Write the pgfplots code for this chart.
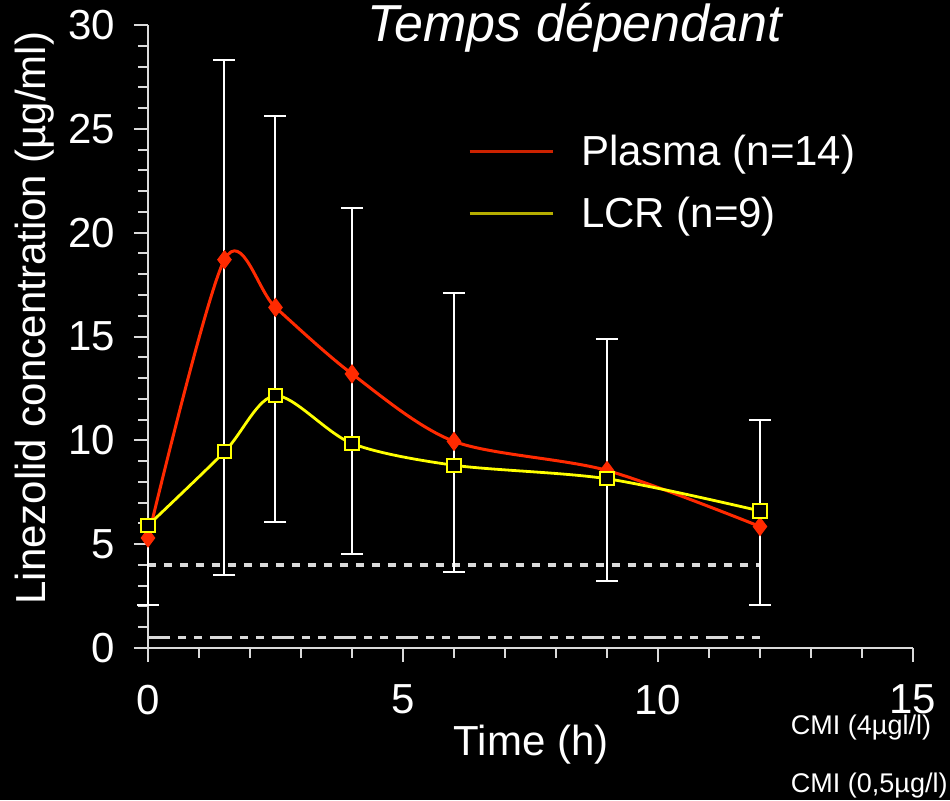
\documentclass[border=0pt]{standalone}
\usepackage{pgfplots}
\pgfplotsset{compat=1.18}
\usepackage{pgfplotstable}
\usepackage{fontspec}
\setmainfont{Liberation Sans}

\definecolor{plasmared}{HTML}{FF2A00}
\definecolor{lcryellow}{HTML}{FFFF00}
\definecolor{legred}{HTML}{CC2200}
\definecolor{legyellow}{HTML}{B5AD00}
\definecolor{axisgray}{HTML}{DADADA}

% mean concentrations (µg/ml)
\pgfplotstableread{
t    plasma  lcr
0    5.30    5.90
1.5  18.70   9.45
2.5  16.40   12.15
4    13.20   9.85
6    9.95    8.80
9    8.55    8.15
12   5.85    6.60
}\conc

% standard deviation bars: top and bottom ends around the plasma mean
\pgfplotstableread{
t    c      ep     em
1.5  18.70  9.60   15.20
2.5  16.40  9.20   10.35
4    13.20  8.00   8.65
6    9.95   7.15   6.30
9    8.55   6.35   5.30
12   5.85   5.15   3.80
}\sdbars

\pgfplotstableread{
t    c     em
0    5.30  3.23
}\sdfirst

\begin{document}
\begin{tikzpicture}
\fill[black] (0,0) rectangle (475pt,400pt);
\useasboundingbox (0,0) rectangle (475pt,400pt);
\begin{axis}[
  at={(74pt,76pt)}, anchor=south west,
  scale only axis, width=382.5pt, height=311.5pt,
  xmin=0, xmax=15, ymin=0, ymax=30,
  axis lines=left,
  axis line style={-, axisgray, line width=1pt},
  x axis line style={shorten <=-6.5pt},
  y axis line style={shorten <=-6pt},
  xtick={0,5,10,15}, minor x tick num=4,
  ytick={0,5,...,30}, minor y tick num=4,
  tick align=outside,
  tick style={axisgray, line width=1pt},
  major tick length=7pt, minor tick length=5pt,
  /pgf/number format/assume math mode=true,
  tick label style={white, font=\fontsize{21}{25}\selectfont},
  xticklabel style={yshift=-8pt},
  yticklabel style={xshift=-6pt},
  xlabel={Time (h)},
  ylabel={Linezolid concentration (µg/ml)},
  xlabel style={at={(axis description cs:0.5007,-0.1557)}, anchor=center,
    text=white, font=\fontsize{21}{25}\selectfont},
  ylabel style={at={(axis description cs:-0.1477,0.5297)}, anchor=center, rotate=0,
    text=white, font=\fontsize{21}{25}\selectfont},
  title={\itshape Temps dépendant},
  every axis title shift=0pt,
  title style={at={(axis description cs:0.558,0.995)}, anchor=center, yshift=0pt,
    text=white, font=\fontsize{26}{30}\selectfont},
  clip=false,
  legend style={at={(axis cs:6.15,25.0)}, anchor=north west, draw=none, fill=none,
    text=white, font=\fontsize{21}{25}\selectfont, row sep=12pt,
    nodes={inner sep=1pt},
    /tikz/every odd column/.append style={column sep=12.5pt}},
  legend cell align=left,
]

% MIC reference lines
\addplot[axisgray, line width=2pt, dash pattern=on 4pt off 4pt, forget plot]
  coordinates {(0,4) (12,4)};
\addplot[axisgray, line width=1.2pt, dash pattern=on 11pt off 4pt on 4pt off 4pt on 4pt off 4pt, forget plot]
  coordinates {(0,0.5) (12,0.5)};

% standard deviation bars
\addplot[only marks, mark=none, forget plot,
  error bars/.cd, y dir=both, y explicit,
  error bar style={white, line width=1pt},
  error mark options={rotate=90, white, mark size=5.5pt, line width=1pt}]
  table[x=t, y=c, y error plus=ep, y error minus=em] {\sdbars};
\addplot[only marks, mark=none, forget plot,
  error bars/.cd, y dir=minus, y explicit,
  error bar style={white, line width=1pt},
  error mark options={rotate=90, white, mark size=5.5pt, line width=1pt}]
  table[x=t, y=c, y error minus=em] {\sdfirst};

% plasma
\addplot[plasmared, line width=1.5pt, smooth, mark=diamond*, mark size=4.5pt,
  mark options={fill=plasmared, draw=plasmared, line width=0.5pt, solid},
  legend image code/.code={\draw[legred, line width=1.5pt] (0pt,0pt) -- (41.5pt,0pt);}]
  table[x=t, y=plasma] {\conc};
\addlegendentry{Plasma (n=14)}

% cerebrospinal fluid
\addplot[lcryellow, line width=1.4pt, smooth, mark=square*, mark size=3.3pt,
  mark options={fill=black, draw=lcryellow, line width=1pt, solid},
  legend image code/.code={\draw[legyellow, line width=1.5pt] (0pt,0pt) -- (41.5pt,0pt);}]
  table[x=t, y=lcr] {\conc};
\addlegendentry{LCR (n=9)}

\node[anchor=west, inner sep=0pt, text=white, font=\fontsize{13.5}{15}\selectfont] at (axis cs:12.6,-3.85) {CMI (4µgl/l)};
\node[anchor=west, inner sep=0pt, text=white, font=\fontsize{13.5}{15}\selectfont] at (axis cs:12.6,-6.6) {CMI (0,5µg/l)};
\end{axis}
\end{tikzpicture}
\end{document}
